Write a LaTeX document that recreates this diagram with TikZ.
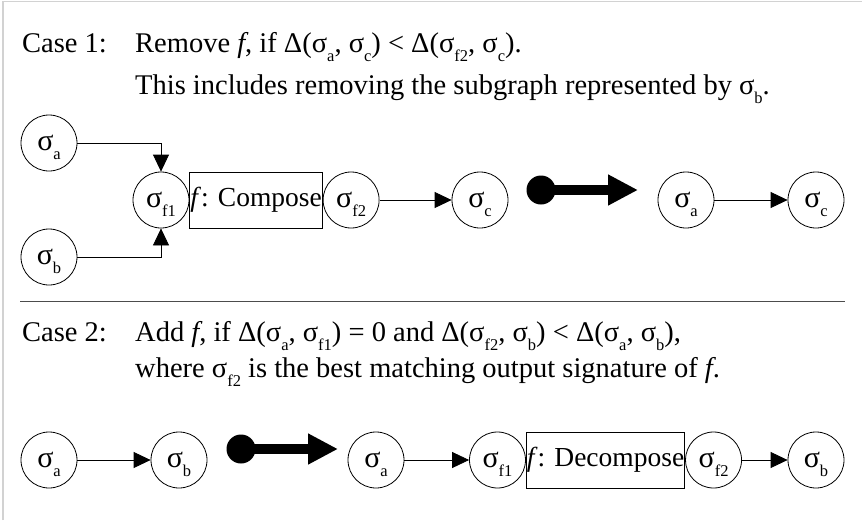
\documentclass[tikz,border=0pt]{standalone}
\usepackage{fontspec}
\setmainfont{Liberation Serif}
\usetikzlibrary{arrows.meta,positioning}
% sigma with a lowered index
\newcommand{\sg}[1]{σ\raisebox{-9pt}{\fontsize{16.5}{16.5}\selectfont #1}}

\begin{document}
\begin{tikzpicture}[x=1pt, y=-1pt, >={Triangle[length=17pt,width=16pt]},
    sig/.style={draw, circle, minimum size=56pt, inner sep=0pt, line width=0.8pt,
        text depth=0pt, font=\fontsize{30}{32}\selectfont},
    fnbox/.style={draw, rectangle, minimum width=132pt, minimum height=56pt,
        inner xsep=0.5pt, inner ysep=0pt, line width=0.8pt, font=\fontsize{27.5}{30}\selectfont},
    link/.style={->, line width=0.8pt},
    bigdot/.style={circle, fill=black, minimum size=29pt, inner sep=0pt},
    bigarrow/.style={line width=10pt, -{Triangle[length=30pt,width=29pt]}},
    txt/.style={anchor=base west, inner sep=0pt, font=\fontsize{28.5}{32}\selectfont}]
    \useasboundingbox (0,0) rectangle (862,520);
    \draw[gray!35, line width=1.5pt] (3,520) -- (3,1.5) -- (862,1.5);

    % --- Case 1 text ---
    \node[txt] (c1) at (22,52) {Case 1:};
    \node[txt] (c1a) at (135,52) {Remove \textit{f}, if Δ(\sg{a}, \sg{c}) < Δ(\sg{f2}, \sg{c}).};
    \node[txt] (c1b) at (135,94) {This includes removing the subgraph represented by \sg{b}.};

    % --- Case 1: before ---
    \node[sig] (sa) at (49,143) {\sg{a}};
    \node[sig] (sb) at (49,257) {\sg{b}};
    \node[sig] (sf1) at (161,200) {\sg{f1}};
    \node[fnbox, right=0pt of sf1] (comp) {\textit{f}: Compose};
    \node[sig, right=0pt of comp] (sf2) {\sg{f2}};
    \node[sig] (sc) at (480,200) {\sg{c}};
    \draw[link] (sa) -| (sf1);
    \draw[link] (sb) -| (sf1);
    \draw[link] (sf2) -- (sc);

    % big arrow
    \node[bigdot] (d1) at (541,190) {};
    \coordinate (t1) at (638,190);
    \draw[bigarrow] (d1.center) -- (t1);

    % --- Case 1: after ---
    \node[sig] (sa1r) at (686,200) {\sg{a}};
    \node[sig] (sc1r) at (816,200) {\sg{c}};
    \draw[link] (sa1r) -- (sc1r);

    % separator
    \draw[black!70, line width=1.2pt] (20,301.5) -- (845,301.5);

    % --- Case 2 text ---
    \node[txt] (c2) at (22,341) {Case 2:};
    \node[txt] (c2a) at (135,341) {Add \textit{f}, if Δ(\sg{a}, \sg{f1}) = 0 and Δ(\sg{f2}, \sg{b}) < Δ(\sg{a}, \sg{b}),};
    \node[txt] (c2b) at (135,377) {where \sg{f2} is the best matching output signature of \textit{f}.};

    % --- Case 2: before ---
    \node[sig] (sa2) at (49,460) {\sg{a}};
    \node[sig] (sb2) at (179,460) {\sg{b}};
    \draw[link] (sa2) -- (sb2);

    \node[bigdot] (d2) at (241,449) {};
    \coordinate (t2) at (338,449);
    \draw[bigarrow] (d2.center) -- (t2);

    % --- Case 2: after ---
    \node[sig] (sa3) at (376,460) {\sg{a}};
    \node[sig] (sf1b) at (497.5,460) {\sg{f1}};
    \node[fnbox, minimum width=151pt, right=0pt of sf1b] (decomp) {\textit{f}: Decompose};
    \node[sig, right=0pt of decomp] (sf2b) {\sg{f2}};
    \node[sig] (sb3) at (816,460) {\sg{b}};
    \draw[link] (sa3) -- (sf1b);
    \draw[link] (sf2b) -- (sb3);
\end{tikzpicture}
\end{document}
